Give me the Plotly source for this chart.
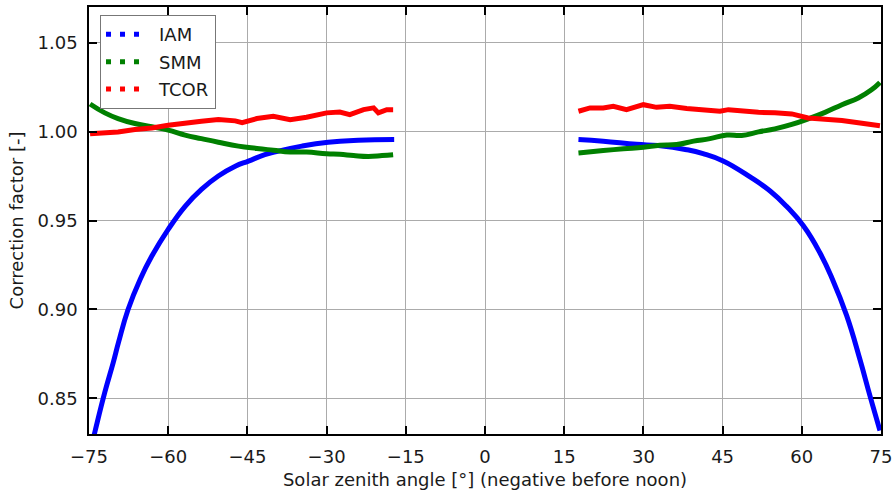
import plotly.graph_objects as go

# Solar zenith angle (deg, negative before noon) and correction factors,
# morning branch and afternoon branch for each factor.
iam_x_am = [-74.8, -73.9, -72.0, -70.4, -69.4, -67.6, -65.3, -63.1, -60.0, -56.8, -53.7,
            -50.5, -47.3, -44.8, -41.7, -39.1, -34.7, -29.7, -24.0, -17.2]
iam_y_am = [0.820, 0.831, 0.8535, 0.8703, 0.8816, 0.900, 0.917, 0.930, 0.945, 0.958, 0.9675,
            0.975, 0.9805, 0.9834, 0.987, 0.989, 0.9918, 0.994, 0.9951, 0.9955]
iam_x_pm = [17.7, 22.4, 28.7, 32.8, 38.2, 41.3, 45.1, 50.2, 54.0, 57.1,
            60.3, 63.4, 65.8, 68.5, 71.0, 72.9, 74.8]
iam_y_pm = [0.9955, 0.9946, 0.9928, 0.9921, 0.9898, 0.9876, 0.9835, 0.9745, 0.9666, 0.958,
            0.947, 0.932, 0.917, 0.8965, 0.872, 0.8516, 0.832]

smm_x_am = [-74.8, -72.0, -69.5, -66.3, -63.1, -60.0, -56.8, -53.7, -50.5, -46.7,
            -43.2, -40.1, -36.9, -33.8, -30.0, -27.5, -24.9, -22.1, -19.5, -17.4]
smm_y_am = [1.0155, 1.0105, 1.0073, 1.0045, 1.0027, 1.0008, 0.998, 0.996, 0.994, 0.9918,
            0.9905, 0.9895, 0.9885, 0.9885, 0.9875, 0.9872, 0.9865, 0.986, 0.9865, 0.987]
smm_x_pm = [17.7, 22.4, 26.2, 30.0, 33.1, 36.3, 39.5, 42.6, 45.8, 48.6,
            51.8, 54.9, 58.1, 61.2, 64.4, 67.6, 70.7, 73.2, 74.8]
smm_y_pm = [0.988, 0.9893, 0.9903, 0.9912, 0.9923, 0.9927, 0.9946, 0.996, 0.998, 0.9978,
            0.9998, 1.0015, 1.004, 1.0071, 1.0108, 1.0151, 1.0189, 1.0235, 1.0276]

tcor_x_am = [-74.8, -72.0, -69.5, -66.3, -63.1, -60.0, -56.8, -53.7, -50.5, -47.3,
             -46.0, -43.2, -40.1, -38.8, -36.9, -33.8, -30.0, -27.5, -25.6, -23.0,
             -21.1, -20.2, -18.6, -17.4]
tcor_y_am = [0.9987, 0.9993, 0.9998, 1.0012, 1.0020, 1.0035, 1.0049, 1.0058, 1.0067, 1.006,
             1.0050, 1.0073, 1.0086, 1.008, 1.0067, 1.008, 1.0105, 1.011, 1.0095, 1.0123,
             1.0133, 1.0105, 1.0123, 1.0123]
tcor_x_pm = [17.7, 19.9, 22.4, 24.3, 26.8, 30.0, 32.5, 35.0, 38.2, 41.3,
             44.5, 46.1, 48.6, 51.8, 54.9, 58.1, 61.2, 64.4, 67.6, 70.7, 74.8]
tcor_y_pm = [1.0114, 1.0133, 1.0133, 1.0142, 1.0123, 1.0151, 1.0136, 1.0142, 1.0129, 1.0123,
             1.0114, 1.0123, 1.0114, 1.0108, 1.0105, 1.0099, 1.0076, 1.0071, 1.0062, 1.0049, 1.0033]

x_ticks = [-75, -60, -45, -30, -15, 0, 15, 30, 45, 60, 75]
x_tick_text = ["−75", "−60", "−45", "−30", "−15", "0", "15", "30", "45", "60", "75"]
y_ticks = [0.85, 0.90, 0.95, 1.00, 1.05]
y_tick_text = ["0.85", "0.90", "0.95", "1.00", "1.05"]

series = [
    ("IAM", "#0000ff", iam_x_am, iam_y_am, iam_x_pm, iam_y_pm, "spline"),
    ("SMM", "#008000", smm_x_am, smm_y_am, smm_x_pm, smm_y_pm, "spline"),
    ("TCOR", "#ff0000", tcor_x_am, tcor_y_am, tcor_x_pm, tcor_y_pm, "linear"),
]

FONT = "DejaVu Sans"
FS = 18
fig = go.Figure()

for name, color, xa, ya, xp, yp, shape in series:
    fig.add_trace(go.Scatter(
        x=xa + [None] + xp, y=ya + [None] + yp,
        mode="lines", line=dict(color=color, width=5, shape=shape, smoothing=1.3),
        showlegend=False, hoverinfo="skip",
    ))

# legend entries drawn as a row of three dots
for name, color, *_ in series:
    fig.add_trace(go.Scatter(
        x=[None], y=[None], mode="lines", name=name, legendgroup=name,
        line=dict(color=color, width=5, dash="5px,9px,5px,9px,5px,40px"),
    ))

axis_common = dict(
    ticks="inside", ticklen=8, tickwidth=1.5, tickcolor="#000000",
    showline=True, linecolor="#000000", linewidth=1.5, mirror="ticks",
    showgrid=True, gridcolor="#ababab", gridwidth=1, zeroline=False,
    tickfont=dict(family=FONT, size=FS, color="#1a1a1a"),
    ticklabelstandoff=6,
)

fig.update_layout(
    width=893, height=490,
    margin=dict(l=89, r=12, t=7, b=56),
    paper_bgcolor="white", plot_bgcolor="white",
    font=dict(family=FONT, size=FS, color="#1a1a1a"),
    xaxis=dict(
        range=[-75, 75], tickvals=x_ticks, ticktext=x_tick_text,
        title=dict(text="Solar zenith angle [°] (negative before noon)",
                   font=dict(family=FONT, size=FS), standoff=7),
        automargin=False, **axis_common,
    ),
    yaxis=dict(
        range=[0.83, 1.07], tickvals=y_ticks, ticktext=y_tick_text,
        title=dict(text="Correction factor [-]",
                   font=dict(family=FONT, size=FS), standoff=9),
        automargin=False, **axis_common,
    ),
    legend=dict(
        x=0.0139, y=0.981, xanchor="left", yanchor="top",
        bgcolor="white", bordercolor="#777777", borderwidth=1,
        font=dict(family=FONT, size=FS, color="#1a1a1a"),
        itemwidth=48, tracegroupgap=1,
    ),
)

fig.write_html("out.html")
